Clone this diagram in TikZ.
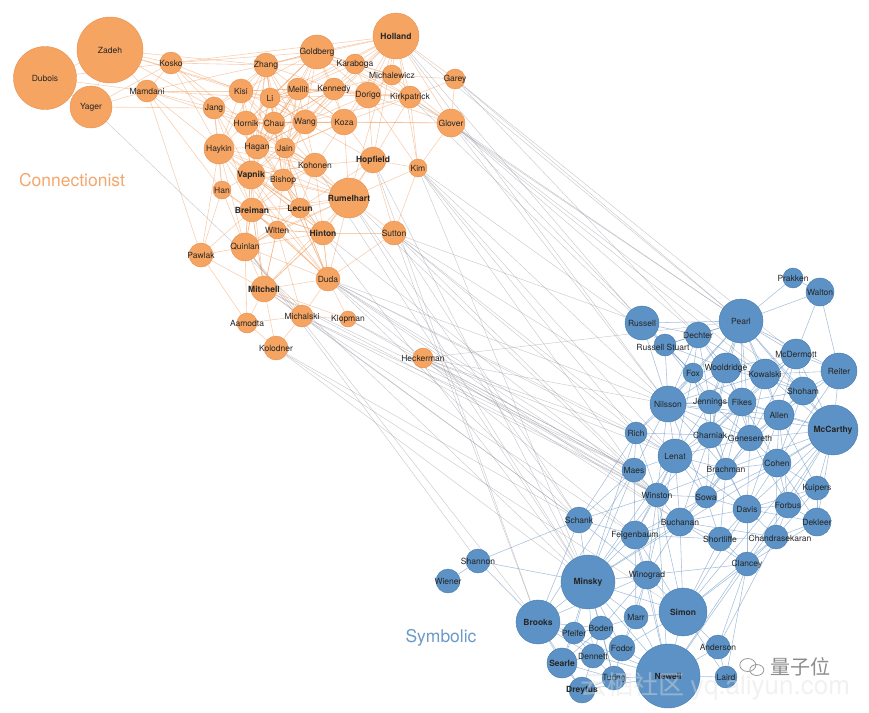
\documentclass[tikz,border=0pt]{standalone}
\usepackage{fontspec}
\setmainfont{TeX Gyre Heros}
\newfontfamily\cjkfont{Noto Sans CJK SC}
\usetikzlibrary{backgrounds}
\definecolor{ofill}{RGB}{245,164,98}
\definecolor{ostroke}{RGB}{232,142,80}
\definecolor{bfill}{RGB}{92,146,197}
\definecolor{bstroke}{RGB}{70,122,172}
\definecolor{oedgec}{RGB}{240,160,100}
\definecolor{bedgec}{RGB}{105,148,195}
\definecolor{xedgec}{RGB}{140,140,152}
\definecolor{olab}{RGB}{242,167,110}
\definecolor{blab}{RGB}{106,154,200}
\tikzset{
  lab/.style={font=\fontsize{8.5}{9}\selectfont, text=black!85, inner sep=0pt},
  on/.style 2 args={circle, fill=ofill, draw=ostroke, line width=0.4pt, minimum size=#1, inner sep=0pt, label={[lab]center:#2}},
  bn/.style 2 args={circle, fill=bfill, draw=bstroke, line width=0.4pt, minimum size=#1, inner sep=0pt, label={[lab]center:#2}},
  oedge/.style={draw=oedgec, line width=0.6pt, opacity=0.5},
  bedge/.style={draw=bedgec, line width=0.55pt, opacity=0.6},
  xedge/.style={draw=xedgec, line width=0.4pt, opacity=0.5},
  grouplab/.style={font=\fontsize{17.5}{20}\selectfont, inner sep=0pt}
}
\begin{document}
\begin{tikzpicture}[x=1pt,y=-1pt]
\useasboundingbox (0,0) rectangle (869,712);
% ---------- orange nodes ----------
\node[on={66pt}{Zadeh}] (zadeh) at (110,50) {};
\node[on={63pt}{Dubois}] (dubois) at (45,78) {};
\node[on={42pt}{Yager}] (yager) at (91,107) {};
\node[on={22pt}{Kosko}] (kosko) at (171,63) {};
\node[on={22pt}{Mamdani}] (mamdani) at (147,91) {};
\node[on={24pt}{Zhang}] (zhang) at (266,65) {};
\node[on={24pt}{Kisi}] (kisi) at (241,91) {};
\node[on={20pt}{Li}] (li) at (270,98) {};
\node[on={22pt}{Jang}] (jang) at (214,108) {};
\node[on={24pt}{Hornik}] (hornik) at (246,123) {};
\node[on={22pt}{Chau}] (chau) at (274,123) {};
\node[on={30pt}{Haykin}] (haykin) at (219,149) {};
\node[on={24pt}{Hagan}] (hagan) at (257,147) {};
\node[on={20pt}{Jain}] (jain) at (285,148) {};
\node[on={28pt}{\bfseries Vapnik}] (vapnik) at (251,175) {};
\node[on={22pt}{Bishop}] (bishop) at (283,180) {};
\node[on={18pt}{Han}] (han) at (222,190) {};
\node[on={46pt}{\bfseries Holland}] (holland) at (396,36) {};
\node[on={34pt}{Goldberg}] (goldberg) at (317,52) {};
\node[on={20pt}{Karaboga}] (karaboga) at (355,64) {};
\node[on={20pt}{Michalewicz}] (michalewicz) at (392,75) {};
\node[on={20pt}{Garey}] (garey) at (455,79) {};
\node[on={22pt}{Mellit}] (mellit) at (298,89) {};
\node[on={22pt}{Kennedy}] (kennedy) at (334,89) {};
\node[on={26pt}{Dorigo}] (dorigo) at (368,95) {};
\node[on={22pt}{Kirkpatrick}] (kirkpatrick) at (410,97) {};
\node[on={28pt}{Glover}] (glover) at (451,123) {};
\node[on={24pt}{Wang}] (wang) at (305,122) {};
\node[on={26pt}{Koza}] (koza) at (344,122) {};
\node[on={24pt}{Kohonen}] (kohonen) at (315,165) {};
\node[on={26pt}{\bfseries Hopfield}] (hopfield) at (373,160) {};
\node[on={18pt}{Kim}] (kim) at (418,168) {};
\node[on={40pt}{\bfseries Rumelhart}] (rumelhart) at (349,198) {};
\node[on={24pt}{\bfseries Breiman}] (breiman) at (252,210) {};
\node[on={20pt}{\bfseries Lecun}] (lecun) at (300,208) {};
\node[on={18pt}{Witten}] (witten) at (277,230) {};
\node[on={24pt}{\bfseries Hinton}] (hinton) at (323,233) {};
\node[on={24pt}{Sutton}] (sutton) at (394,233) {};
\node[on={24pt}{Pawlak}] (pawlak) at (201,255) {};
\node[on={28pt}{Quinlan}] (quinlan) at (245,247) {};
\node[on={24pt}{Duda}] (duda) at (328,279) {};
\node[on={26pt}{\bfseries Mitchell}] (mitchell) at (264,289) {};
\node[on={22pt}{Michalski}] (michalski) at (302,316) {};
\node[on={16pt}{Klopman}] (klopman) at (348,319) {};
\node[on={20pt}{Aamodta}] (aamodta) at (247,323) {};
\node[on={24pt}{Kolodner}] (kolodner) at (276,348) {};
\node[on={20pt}{Heckerman}] (heckerman) at (423,358) {};
% ---------- blue nodes ----------
\node[bn={20pt}{Prakken}] (prakken) at (793,278) {};
\node[bn={28pt}{Walton}] (walton) at (820,292) {};
\node[bn={34pt}{Russell}] (russell) at (642,323) {};
\node[bn={44pt}{Pearl}] (pearl) at (741,321) {};
\node[bn={26pt}{Dechter}] (dechter) at (698,335) {};
\node[bn={22pt}{}] (russellstuart) at (665,345) {};
\node[lab] (rslab) at (663,347) {Russell Stuart};
\node[bn={30pt}{McDermott}] (mcdermott) at (796,354) {};
\node[bn={36pt}{Reiter}] (reiter) at (839,371) {};
\node[bn={20pt}{Fox}] (fox) at (693,373) {};
\node[bn={30pt}{Wooldridge}] (wooldridge) at (726,368) {};
\node[bn={30pt}{Kowalski}] (kowalski) at (765,374) {};
\node[bn={28pt}{Shoham}] (shoham) at (803,391) {};
\node[bn={36pt}{Nilsson}] (nilsson) at (668,404) {};
\node[bn={24pt}{Jennings}] (jennings) at (710,402) {};
\node[bn={28pt}{Fikes}] (fikes) at (742,402) {};
\node[bn={30pt}{Allen}] (allen) at (779,415) {};
\node[bn={50pt}{\bfseries McCarthy}] (mccarthy) at (833,430) {};
\node[bn={22pt}{Rich}] (rich) at (636,433) {};
\node[bn={26pt}{Charniak}] (charniak) at (710,435) {};
\node[bn={26pt}{Genesereth}] (genesereth) at (750,438) {};
\node[bn={34pt}{Lenat}] (lenat) at (675,456) {};
\node[bn={24pt}{Maes}] (maes) at (634,470) {};
\node[bn={22pt}{Brachman}] (brachman) at (726,469) {};
\node[bn={28pt}{Cohen}] (cohen) at (777,463) {};
\node[bn={24pt}{Kuipers}] (kuipers) at (817,488) {};
\node[bn={24pt}{Winston}] (winston) at (657,495) {};
\node[bn={22pt}{Sowa}] (sowa) at (706,497) {};
\node[bn={28pt}{Davis}] (davis) at (747,509) {};
\node[bn={26pt}{Forbus}] (forbus) at (788,505) {};
\node[bn={28pt}{Dekleer}] (dekleer) at (817,522) {};
\node[bn={26pt}{Schank}] (schank) at (579,520) {};
\node[bn={28pt}{Buchanan}] (buchanan) at (680,522) {};
\node[bn={28pt}{Feigenbaum}] (feigenbaum) at (635,535) {};
\node[bn={24pt}{Shortliffe}] (shortliffe) at (720,539) {};
\node[bn={24pt}{}] (chandrasekaran) at (776,537) {};
\node[lab] (chlab) at (780,538) {Chandrasekaran};
\node[bn={24pt}{Clancey}] (clancey) at (747,564) {};
\node[bn={54pt}{\bfseries Minsky}] (minsky) at (588,582) {};
\node[bn={28pt}{Winograd}] (winograd) at (647,575) {};
\node[bn={24pt}{Shannon}] (shannon) at (478,561) {};
\node[bn={24pt}{Wiener}] (wiener) at (448,581) {};
\node[bn={48pt}{\bfseries Simon}] (simon) at (683,612) {};
\node[bn={44pt}{\bfseries Brooks}] (brooks) at (538,622) {};
\node[bn={24pt}{Marr}] (marr) at (636,617) {};
\node[bn={24pt}{Boden}] (boden) at (601,628) {};
\node[bn={22pt}{Pfeifer}] (pfeifer) at (574,633) {};
\node[bn={24pt}{Anderson}] (anderson) at (718,647) {};
\node[bn={26pt}{Fodor}] (fodor) at (622,648) {};
\node[bn={24pt}{Dennett}] (dennett) at (593,656) {};
\node[bn={30pt}{\bfseries Searle}] (searle) at (562,663) {};
\node[bn={64pt}{\bfseries Newell}] (newell) at (668,676) {};
\node[bn={22pt}{Laird}] (laird) at (726,677) {};
\node[bn={24pt}{Turing}] (turing) at (614,678) {};
\node[bn={26pt}{\bfseries Dreyfus}] (dreyfus) at (582,690) {};
% ---------- group labels ----------
\node[grouplab, text=olab] (conn) at (72,180) {Connectionist};
\node[grouplab, text=blab] (symb) at (441,638) {Symbolic};
% ---------- watermark ----------
\node[font=\fontsize{26}{28}\selectfont, text=white, opacity=0.3, inner sep=0pt] (wm2) at (715,686) {\cjkfont 云栖社区\ \rmfamily yq.aliyun.com};
\node[font=\fontsize{26}{28}\selectfont, text=black!30, opacity=0.18, inner sep=0pt] (wm3) at (715.6,686.6) {\cjkfont 云栖社区\ \rmfamily yq.aliyun.com};
\node[font=\cjkfont\fontsize{20}{22}\selectfont, text=black!45, inner sep=0pt] (wm1) at (800,667) {量子位};
\draw[black!40, line width=0.8pt] (wm1.west) ++(-22,-2) circle[x radius=8, y radius=6.5];
\draw[black!40, line width=0.8pt] (wm1.west) ++(-13,3) circle[x radius=7, y radius=5.5];
% ---------- edges ----------
\begin{pgfonlayer}{background}
\foreach \a/\bl in {
 zadeh/{dubois,yager,kosko,mamdani,zhang,jang,kisi,li},
 dubois/{yager,mamdani,kosko},
 yager/{mamdani,kosko,jang},
 kosko/{mamdani,zhang,jang,haykin,kisi,hornik,goldberg},
 mamdani/{jang,kisi,li,haykin,zhang,hornik,han,pawlak},
 zhang/{kisi,li,jang,mellit,goldberg,chau,hornik,wang,hagan,jain,haykin,karaboga,kennedy,vapnik,bishop,kohonen},
 kisi/{li,jang,hornik,chau,mellit,haykin,hagan,wang,vapnik,jain},
 li/{chau,hornik,mellit,wang,hagan,jain,kennedy,goldberg,vapnik,bishop},
 jang/{hornik,haykin,hagan,chau,han,vapnik,breiman},
 hornik/{chau,haykin,hagan,jain,vapnik,bishop,wang,kohonen},
 chau/{wang,jain,hagan,bishop,mellit,kennedy,vapnik,kohonen},
 haykin/{hagan,vapnik,han,breiman,bishop,kohonen,quinlan,pawlak},
 hagan/{jain,vapnik,bishop,kohonen,wang,lecun},
 jain/{bishop,vapnik,kohonen,wang,koza,lecun,breiman},
 vapnik/{bishop,han,breiman,lecun,quinlan,witten,kohonen,hinton,rumelhart},
 bishop/{kohonen,lecun,breiman,witten,hinton,rumelhart,duda},
 han/{breiman,quinlan,pawlak,witten},
 holland/{goldberg,karaboga,michalewicz,garey,dorigo,kirkpatrick,glover,koza,kennedy,mellit,zhang,kosko,hopfield,kim,li,wang,jain,rumelhart},
 goldberg/{karaboga,michalewicz,mellit,kennedy,dorigo,koza,wang,kirkpatrick,glover,li,kisi,zhang,chau,hornik,jain},
 karaboga/{michalewicz,kennedy,dorigo,kirkpatrick,mellit},
 michalewicz/{garey,dorigo,kirkpatrick,glover,kennedy},
 garey/{kirkpatrick,glover},
 mellit/{kennedy,wang,koza,hagan,jain,li,chau,hornik,kisi,vapnik,bishop},
 kennedy/{dorigo,koza,wang,kirkpatrick,li,chau,hagan,jain},
 dorigo/{kirkpatrick,koza,glover,hopfield,wang,mellit,li,kim},
 kirkpatrick/{glover,koza,kim,hopfield,wang,mellit},
 glover/{koza,kim,wang},
 wang/{koza,kohonen,hopfield,bishop,hagan,jain,li,hornik,vapnik},
 koza/{hopfield,kohonen,rumelhart,li,chau,jain,mellit},
 kohonen/{hopfield,rumelhart,lecun,hinton,breiman,vapnik,jain},
 hopfield/{rumelhart,hinton,kim,sutton,lecun},
 kim/{sutton,rumelhart},
 rumelhart/{lecun,hinton,sutton,breiman,witten,duda,mitchell,hagan,jain,hornik,haykin,quinlan},
 breiman/{lecun,witten,quinlan,hinton,pawlak,mitchell,duda},
 lecun/{witten,hinton,duda,quinlan,vapnik,breiman,haykin,jain},
 witten/{hinton,quinlan,mitchell,duda,michalski},
 hinton/{sutton,duda,quinlan,mitchell,breiman,witten,vapnik,bishop,jain},
 sutton/{duda},
 pawlak/{quinlan,mitchell,aamodta},
 quinlan/{mitchell,duda,aamodta,michalski,vapnik,breiman,witten},
 duda/{mitchell,michalski,klopman,vapnik,breiman,bishop,hinton,lecun,haykin},
 mitchell/{michalski,aamodta,kolodner,klopman,breiman,witten,hinton,vapnik},
 michalski/{aamodta,kolodner,klopman},
 aamodta/{kolodner}}
 { \foreach \b in \bl { \draw[oedge] (\a) -- (\b); } }
\foreach \a/\bl in {
 prakken/{walton,pearl},
 walton/{pearl,mcdermott,reiter},
 pearl/{dechter,mcdermott,reiter,wooldridge,kowalski,fox,russellstuart,russell,jennings,fikes,nilsson,shoham,mccarthy,allen,charniak,genesereth},
 russell/{russellstuart,dechter,nilsson,fox},
 dechter/{russellstuart,fox,wooldridge,nilsson,kowalski,fikes,jennings},
 russellstuart/{fox,nilsson,jennings,wooldridge},
 mcdermott/{reiter,kowalski,shoham,mccarthy,allen,fikes,wooldridge,genesereth,charniak},
 reiter/{shoham,mccarthy,kowalski,allen,cohen},
 fox/{wooldridge,nilsson,jennings,fikes,charniak,rich,lenat},
 wooldridge/{kowalski,jennings,fikes,shoham,nilsson,genesereth,charniak},
 kowalski/{shoham,fikes,allen,mccarthy,genesereth,nilsson},
 shoham/{allen,mccarthy,fikes,cohen,genesereth},
 nilsson/{jennings,fikes,rich,charniak,lenat,maes,winston,genesereth,allen,mccarthy,brachman,sowa},
 jennings/{fikes,charniak,genesereth,lenat,brachman},
 fikes/{allen,genesereth,charniak,brachman,mccarthy,cohen,lenat,sowa},
 allen/{mccarthy,genesereth,cohen,brachman,davis,kuipers,forbus},
 mccarthy/{cohen,kuipers,genesereth,forbus,dekleer,davis,minsky,simon,newell,brachman},
 rich/{lenat,maes,charniak,winston,minsky,schank},
 charniak/{genesereth,lenat,brachman,sowa,winston,davis,buchanan},
 genesereth/{brachman,cohen,davis,lenat,sowa,forbus},
 lenat/{maes,brachman,winston,sowa,buchanan,feigenbaum,davis,minsky,winograd},
 maes/{winston,brooks,minsky,feigenbaum,schank},
 brachman/{cohen,sowa,davis,buchanan,winston,shortliffe},
 cohen/{davis,forbus,kuipers,chandrasekaran,dekleer,sowa},
 kuipers/{forbus,dekleer,davis,chandrasekaran},
 winston/{sowa,buchanan,feigenbaum,minsky,winograd,schank,simon,newell},
 sowa/{davis,buchanan,shortliffe,feigenbaum},
 davis/{forbus,dekleer,chandrasekaran,shortliffe,buchanan,clancey,simon},
 forbus/{dekleer,chandrasekaran,clancey},
 dekleer/{chandrasekaran,clancey},
 schank/{feigenbaum,minsky,winograd,brooks,shannon},
 buchanan/{feigenbaum,shortliffe,chandrasekaran,clancey,winograd,minsky,simon},
 feigenbaum/{shortliffe,minsky,winograd,simon,newell,marr},
 shortliffe/{chandrasekaran,clancey,simon},
 chandrasekaran/{clancey,simon,anderson},
 clancey/{simon,anderson,laird,newell,winograd},
 minsky/{winograd,brooks,marr,boden,pfeifer,simon,newell,searle,dennett,fodor,shannon,turing},
 shannon/{wiener,brooks},
 winograd/{marr,simon,newell,boden,fodor,brooks},
 simon/{newell,anderson,laird,marr,fodor},
 brooks/{pfeifer,searle,boden,dennett,dreyfus,newell},
 marr/{boden,fodor,newell},
 boden/{pfeifer,fodor,dennett,turing,searle},
 pfeifer/{dennett,searle},
 anderson/{laird,newell},
 fodor/{dennett,newell,turing},
 dennett/{searle,turing,dreyfus,newell},
 searle/{dreyfus,turing},
 newell/{laird,turing,dreyfus},
 turing/{dreyfus}}
 { \foreach \b in \bl { \draw[bedge] (\a) -- (\b); } }
\foreach \a/\bl in {
 garey/{pearl,dechter,mcdermott},
 glover/{pearl,dechter,fox,nilsson,kowalski,shoham},
 kim/{russellstuart,nilsson,rich,maes,lenat,minsky},
 holland/{pearl,russell,nilsson},
 kirkpatrick/{pearl,russell},
 sutton/{russell,nilsson,lenat,schank,rich,maes,brooks},
 rumelhart/{winston,minsky,schank},
 hinton/{minsky,winston},
 hopfield/{brooks,minsky},
 kohonen/{minsky},
 duda/{maes,rich,winston,lenat,nilsson,feigenbaum,buchanan,schank},
 klopman/{maes,winston},
 heckerman/{pearl,rich,maes,winston,buchanan,nilsson,lenat},
 michalski/{maes,winston,feigenbaum,schank},
 mitchell/{schank,winston,maes},
 kolodner/{schank,simon,minsky},
 yager/{minsky},
 quinlan/{shannon,brooks}}
 { \foreach \b in \bl { \draw[xedge] (\a) -- (\b); } }
\end{pgfonlayer}
\end{tikzpicture}
\end{document}
